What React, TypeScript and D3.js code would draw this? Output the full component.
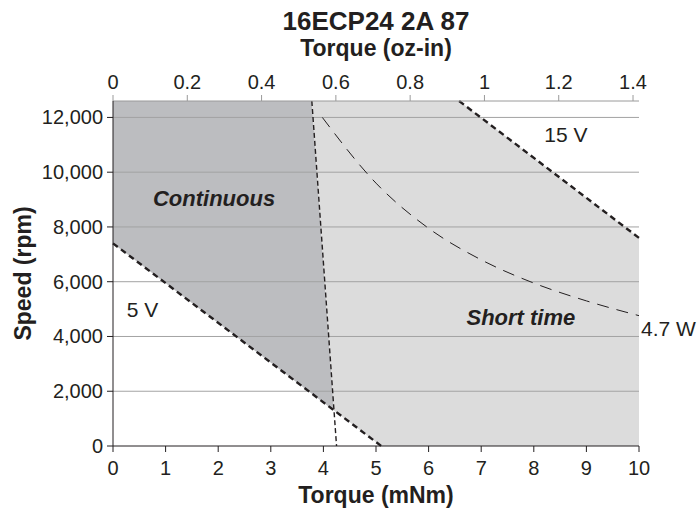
import * as d3 from 'd3';
import React from 'react';

const width = 699;
const height = 512;
const margin = { top: 101, right: 60, bottom: 66, left: 113 };
const font = '"Liberation Sans", Arial, sans-serif';
const ink = '#231f20';

// chart data
const torqueTicks = [0, 1, 2, 3, 4, 5, 6, 7, 8, 9, 10];
const speedTicks = [0, 2000, 4000, 6000, 8000, 10000, 12000];
const ozTicks = [0, 0.2, 0.4, 0.6, 0.8, 1, 1.2, 1.4];
const torqueMax = 10;
const speedMax = 12600;
const mNmPerOzIn = 7.0616;

const continuousArea = [[0, 12600], [3.78, 12600], [4.2, 1300], [0, 7400]];
const shortTimeArea = [[3.78, 12600], [6.58, 12600], [10, 7600], [10, 0], [5.1, 0], [4.2, 1300]];
const line5V = [[0, 7400], [5.1, 0]];
const line15V = [[6.58, 12600], [10, 7600]];
const limitLine = [[3.78, 12600], [4.25, 0]];
const powerLine = [[3.98, 12000], [5, 9600], [6, 7950], [7, 6800], [8, 5950], [9, 5300], [10, 4760]];

export default function App() {
  const x = d3.scaleLinear().domain([0, torqueMax]).range([margin.left, width - margin.right]);
  const y = d3.scaleLinear().domain([0, speedMax]).range([height - margin.bottom, margin.top]);
  const xOz = d3.scaleLinear().domain([0, torqueMax / mNmPerOzIn]).range([margin.left, width - margin.right]);

  const line = d3.line<number[]>().x(d => x(d[0])).y(d => y(d[1]));
  const curve = d3.line<number[]>().x(d => x(d[0])).y(d => y(d[1])).curve(d3.curveMonotoneX);
  const poly = (pts: number[][]) => line(pts) + 'Z';

  const x0 = x(0);
  const x1 = x(torqueMax);
  const yb = y(0);
  const yt = y(speedMax);
  const fmt = d3.format(',');

  return (
    <svg width={width} height={height} style={{ position: 'absolute', left: 0, top: 0 }} fontFamily={font}>
      <rect width={width} height={height} fill="#fff" />
      <path d={poly(continuousArea)} fill="#bcbdc0" />
      <path d={poly(shortTimeArea)} fill="#dcdcdc" />

      {speedTicks.filter(t => t > 0).map(t => (
        <line key={t} x1={x0} x2={x1} y1={y(t)} y2={y(t)} stroke="#a3a3a3" strokeWidth={1} />
      ))}

      <path d={curve(powerLine)!} fill="none" stroke={ink} strokeWidth={1} strokeDasharray="12,8" />
      <path d={line(limitLine)!} fill="none" stroke={ink} strokeWidth={1.4} strokeDasharray="5,3" />
      <path d={line(line5V)!} fill="none" stroke={ink} strokeWidth={2.4} strokeDasharray="6,4" />
      <path d={line(line15V)!} fill="none" stroke={ink} strokeWidth={2.4} strokeDasharray="6,4" />

      {/* top axis (oz-in) */}
      <line x1={x0} x2={x1} y1={yt} y2={yt} stroke="#9a9a9a" />
      {ozTicks.map(t => (
        <g key={t} transform={`translate(${xOz(t)},${yt})`}>
          <line y1={0} y2={-6} stroke="#9a9a9a" />
          <text y={-12} textAnchor="middle" fontSize={20} fill={ink}>{d3.format('~g')(t)}</text>
        </g>
      ))}

      {/* bottom axis (mNm) */}
      <line x1={x0} x2={x1} y1={yb} y2={yb} stroke={ink} />
      {torqueTicks.map(t => (
        <g key={t} transform={`translate(${x(t)},${yb})`}>
          <line y1={0} y2={6} stroke={ink} />
          <text y={29} textAnchor="middle" fontSize={20} fill={ink}>{t}</text>
        </g>
      ))}

      {/* left axis */}
      <line x1={x0} x2={x0} y1={yt} y2={yb} stroke={ink} />
      {speedTicks.map(t => (
        <g key={t} transform={`translate(${x0},${y(t)})`}>
          <line x1={0} x2={-6} stroke={ink} />
          <text x={-10} dy="0.35em" textAnchor="end" fontSize={20} fill={ink}>{fmt(t)}</text>
        </g>
      ))}

      <text x={(x0 + x1) / 2} y={30} textAnchor="middle" fontSize={26} fontWeight="bold" fill={ink}>16ECP24 2A 87</text>
      <text x={(x0 + x1) / 2} y={56} textAnchor="middle" fontSize={23} fontWeight="bold" fill={ink}>Torque (oz-in)</text>
      <text x={(x0 + x1) / 2} y={503} textAnchor="middle" fontSize={23} fontWeight="bold" fill={ink}>Torque (mNm)</text>
      <text transform={`translate(31,${(yt + yb) / 2}) rotate(-90)`} textAnchor="middle" fontSize={23} fontWeight="bold" fill={ink}>Speed (rpm)</text>

      <text x={x(0.76)} y={y(8780)} fontSize={22} fontWeight="bold" fontStyle="italic" fill={ink}>Continuous</text>
      <text x={x(6.72)} y={y(4430)} fontSize={22} fontWeight="bold" fontStyle="italic" fill={ink}>Short time</text>
      <text x={x(8.2)} y={y(11100)} fontSize={21} fill={ink}>15 V</text>
      <text x={x(0.26)} y={y(4700)} fontSize={21} fill={ink}>5 V</text>
      <text x={x1 + 2} y={y(4000)} fontSize={21} fill={ink}>4.7 W</text>
    </svg>
  );
}
